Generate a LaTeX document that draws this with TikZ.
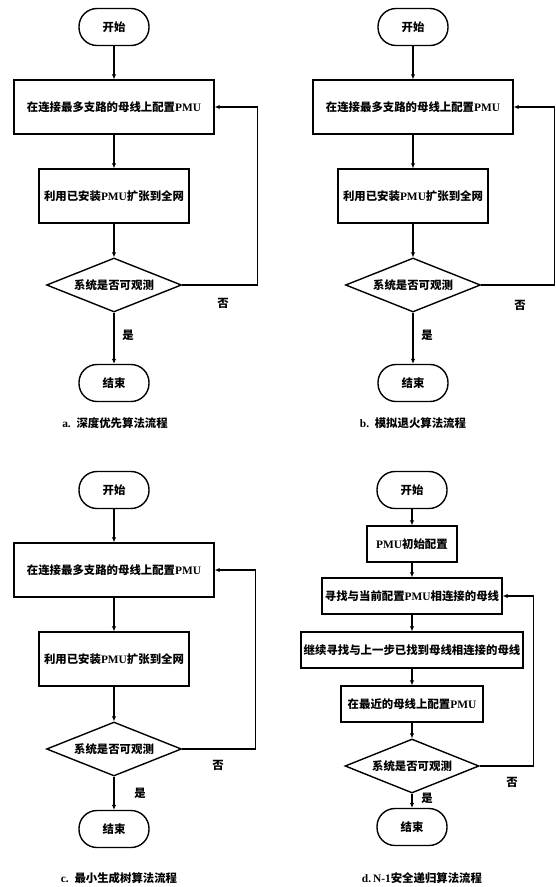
\documentclass[tikz,border=0pt]{standalone}
\usepackage{fontspec}
\setmainfont{Liberation Serif}
\newfontfamily\cjk{Noto Sans CJK SC}
\usetikzlibrary{shapes.geometric,arrows.meta}
\newcommand\zhtxt[1]{{\cjk #1}}
\tikzset{
  base/.style={draw, line width=1.4pt, inner sep=0pt, align=center,
    font=\fontsize{11.4}{13}\selectfont\bfseries},
  term/.style={base, rectangle, rounded corners=18pt, minimum width=70pt, minimum height=37pt},
  proc/.style={base, rectangle, minimum height=54pt},
  dproc/.style={base, rectangle, minimum height=36pt},
  dec/.style={base, diamond, shape aspect=2.5, minimum width=135pt, minimum height=54pt},
  lbl/.style={inner sep=0pt, font=\fontsize{11.4}{13}\selectfont\bfseries},
  arr/.style={line width=1.3pt, -{Latex[length=5pt,width=4.5pt]}},
}
\begin{document}
\begin{tikzpicture}[x=1pt,y=-1pt]
\useasboundingbox (0,0) rectangle (555,887);

% ---------- panel a ----------
\node[term] (sa) at (114,27) {\zhtxt{开始}};
\node[proc, minimum width=200pt] (ra1) at (114,107) {\zhtxt{在连接最多支路的母线上配置}PMU};
\node[proc, minimum width=150pt] (ra2) at (114,196) {\zhtxt{利用已安装}PMU\zhtxt{扩张到全网}};
\node[dec] (da) at (114,285) {\zhtxt{系统是否可观测}};
\node[term] (ea) at (114,383) {\zhtxt{结束}};
\node[lbl] (na) at (223,303) {\zhtxt{否}};
\node[lbl] (ya) at (128,335) {\zhtxt{是}};
\node[lbl] (capa) at (115,423) {a.~~\zhtxt{深度优先算法流程}};
\draw[arr] (sa) -- (ra1);
\draw[arr] (ra1) -- (ra2);
\draw[arr] (ra2) -- (da);
\draw[arr] (da) -- (ea);
\draw[arr] (da.east) -- ++(75,0) |- (ra1.east);

% ---------- panel b ----------
\node[term] (sb) at (413,27) {\zhtxt{开始}};
\node[proc, minimum width=200pt] (rb1) at (413,107) {\zhtxt{在连接最多支路的母线上配置}PMU};
\node[proc, minimum width=150pt] (rb2) at (413,196) {\zhtxt{利用已安装}PMU\zhtxt{扩张到全网}};
\node[dec] (db) at (413,285) {\zhtxt{系统是否可观测}};
\node[term] (eb) at (413,383) {\zhtxt{结束}};
\node[lbl] (nb) at (520,305) {\zhtxt{否}};
\node[lbl] (yb) at (427,335) {\zhtxt{是}};
\node[lbl] (capb) at (413,423) {b.~~\zhtxt{模拟退火算法流程}};
\draw[arr] (sb) -- (rb1);
\draw[arr] (rb1) -- (rb2);
\draw[arr] (rb2) -- (db);
\draw[arr] (db) -- (eb);
\draw[arr] (db.east) -- ++(73,0) |- (rb1.east);

% ---------- panel c ----------
\node[term] (sc) at (114,490) {\zhtxt{开始}};
\node[proc, minimum width=200pt] (rc1) at (114,570) {\zhtxt{在连接最多支路的母线上配置}PMU};
\node[proc, minimum width=150pt] (rc2) at (114,659) {\zhtxt{利用已安装}PMU\zhtxt{扩张到全网}};
\node[dec] (dc) at (114,749) {\zhtxt{系统是否可观测}};
\node[term] (ec) at (114,829) {\zhtxt{结束}};
\node[lbl] (nc) at (218,765) {\zhtxt{否}};
\node[lbl] (yc) at (140,793) {\zhtxt{是}};
\node[lbl] (capc) at (119,878) {c.~~\zhtxt{最小生成树算法流程}};
\draw[arr] (sc) -- (rc1);
\draw[arr] (rc1) -- (rc2);
\draw[arr] (rc2) -- (dc);
\draw[arr] (dc) -- (ec);
\draw[arr] (dc.east) -- ++(73,0) |- (rc1.east);

% ---------- panel d ----------
\node[term] (sd) at (412,490) {\zhtxt{开始}};
\node[dproc, minimum width=90pt] (pd0) at (412,544) {PMU\zhtxt{初始配置}};
\node[dproc, minimum width=180pt] (pd1) at (412,596) {\zhtxt{寻找与当前配置}PMU\zhtxt{相连接的母线}};
\node[dproc, minimum width=222pt] (pd2) at (412,650) {\zhtxt{继续寻找与上一步已找到母线相连接的母线}};
\node[dproc, minimum width=142pt] (pd3) at (412,704) {\zhtxt{在最近的母线上配置}PMU};
\node[dec, minimum width=134pt] (dd) at (412,766) {\zhtxt{系统是否可观测}};
\node[term] (ed) at (412,827) {\zhtxt{结束}};
\node[lbl] (nd) at (512,782) {\zhtxt{否}};
\node[lbl] (yd) at (427,798) {\zhtxt{是}};
\node[lbl] (capd) at (422,878) {d.\,N-1\zhtxt{安全递归算法流程}};
\draw[arr] (sd) -- (pd0);
\draw[arr] (pd0) -- (pd1);
\draw[arr] (pd1) -- (pd2);
\draw[arr] (pd2) -- (pd3);
\draw[arr] (pd3) -- (dd);
\draw[arr] (dd) -- (ed);
\draw[arr] (dd.east) -- ++(54,0) |- (pd1.east);
\end{tikzpicture}
\end{document}
